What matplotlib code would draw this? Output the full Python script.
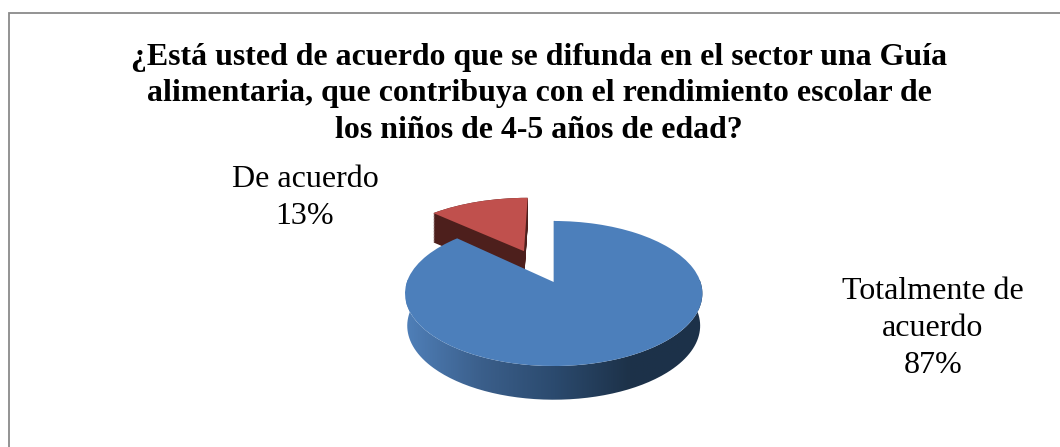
import numpy as np
import matplotlib
matplotlib.use("Agg")
import matplotlib.pyplot as plt
from matplotlib.colors import LinearSegmentedColormap
from matplotlib.path import Path
from matplotlib.patches import PathPatch, Rectangle
from matplotlib.transforms import Transform

title_lines = ["¿Está usted de acuerdo que se difunda en el sector una Guía",
               "alimentaria, que contribuya con el rendimiento escolar de",
               "los niños de 4-5 años de edad?"]
categories = ["Totalmente de\nacuerdo", "De acuerdo"]
values = [87, 13]
explode = [0, 0.51]
top_colors = ["#4c7fbb", "#c0504d"]
red_side = "#4d1f1c"
side_gradient = ["#4f7fb8", "#3b5f8b", "#2b4a6e", "#1d3249", "#1c3149"]

plt.rcParams["font.family"] = ["Liberation Serif", "DejaVu Serif"]
fig = plt.figure(figsize=(10.6, 4.47), dpi=100, facecolor="white")
ax = fig.add_axes([0, 0, 1, 1])


class Persp(Transform):
    """Tilted view of the unit pie, returning pixel-like data coordinates."""
    input_dims = output_dims = 2
    has_inverse = False
    is_separable = False

    def __init__(self, drop=0.0, sx=1.0, sy=1.0, cx=553.7):
        super().__init__()
        self.drop, self.sx, self.sy, self.cx = drop, sx, sy, cx

    def transform_non_affine(self, xy):
        xy = np.asarray(xy, float)
        d = 1 + 0.1586 * xy[:, 1]
        return np.column_stack([self.cx + 146.8 * self.sx * xy[:, 0] / d,
                                282 + self.drop - 70.7 * self.sy * xy[:, 1] / d])


def draw_slice(index, color, persp, z, clip_rect=None):
    wedges, _ = ax.pie(values, explode=explode, startangle=90, counterclock=False,
                       colors=[color] * len(values), frame=False)
    for i, w in enumerate(wedges):
        if i == index:
            w.set_transform(persp + ax.transData)
            w.set_zorder(z)
            w.set_linewidth(0)
            if clip_rect is None:
                w.set_clip_on(False)
            else:
                w.set_clip_path(clip_rect)
        else:
            w.remove()


# red slice: dark extruded stack (cut at the slice's right edge), then lit top
red_clip = Rectangle((0, 0), 525, 447, transform=ax.transData, facecolor="none", edgecolor="none")
ax.add_patch(red_clip)
for t in np.linspace(1, 0, 40):
    draw_slice(1, red_side, Persp(30 * t, 1.03, 1 + 0.01 * t, cx=552.5), 1 + 0.001 * (1 - t), red_clip)
draw_slice(1, top_colors[1], Persp(0, 1.03, 1.0, cx=552.5), 1.5)

# blue slice: gradient side wall, then top
ang = np.radians(np.linspace(172, 368, 200))
unit = np.column_stack([np.cos(ang), np.sin(ang)])
outer_top = Persp().transform(unit)
outer_bot = Persp(32, 0.985, 1.02).transform(unit)[::-1]
wall = Path(np.vstack([outer_top, outer_bot, outer_top[:1]]))
cmap = LinearSegmentedColormap.from_list("side", side_gradient)
img = ax.imshow(np.linspace(0, 1, 400)[None, :], extent=(406, 704, 410, 280), cmap=cmap,
                aspect="auto", zorder=2, interpolation="bilinear")
clip = PathPatch(wall, transform=ax.transData, facecolor="none", edgecolor="none")
ax.add_patch(clip)
img.set_clip_path(clip)
draw_slice(0, top_colors[0], Persp(), 3)

# thin dark sliver along the vertical cut of the blue slice
edge = Persp().transform(np.array([[0.0, 0.0], [0.0, 1.0]]))
ax.plot(edge[:, 0] + 0.2, edge[:, 1], color="#1d3249", lw=0.8, zorder=2.9)

# frame lines of the chart area
ax.plot([9, 9, 1060], [447, 12.5, 12.5], color="#8a8a8a", lw=1.3, zorder=0,
        solid_joinstyle="miter")

ax.set_xlim(0, 1060)
ax.set_ylim(447, 0)
ax.set_aspect("auto")
ax.axis("off")

for line, y in zip(title_lines, [57, 93, 130]):
    ax.text(539, y, line, ha="center", va="center", fontsize=22.95, fontweight="bold", color="black")

ax.text(933, 328.5, f"{categories[0]}\n{values[0]}%", ha="center", va="center",
        fontsize=23, linespacing=1.37, color="black")
ax.text(305, 198, f"{categories[1]}\n{values[1]}%", ha="center", va="center",
        fontsize=23, linespacing=1.37, color="black")

fig.savefig("out.png", dpi=100, facecolor="white")
